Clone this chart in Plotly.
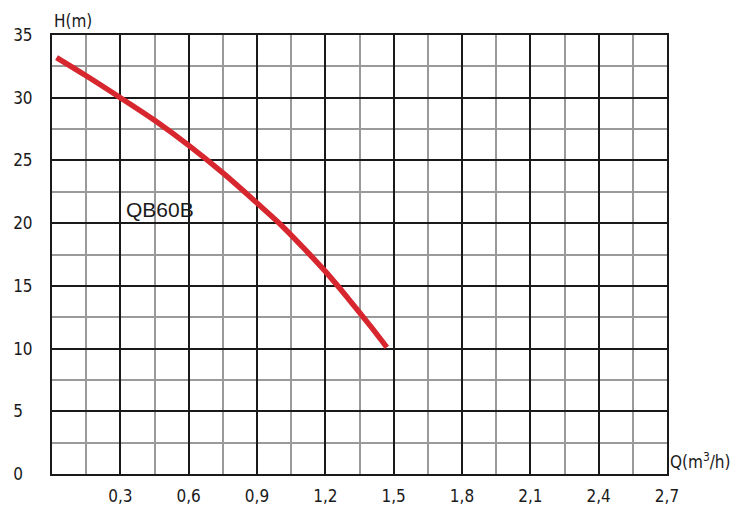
import numpy as np
import plotly.graph_objects as go

# Data
flow_q = [0.02, 0.15, 0.3, 0.45, 0.6, 0.75, 0.9, 1.0, 1.1, 1.2, 1.3, 1.4, 1.47]
head_h = [33.2, 31.75, 30.0, 28.2, 26.2, 24.0, 21.6, 19.95, 18.1, 16.15, 14.0, 11.75, 10.1]
series_name = "QB60B"

x_tickvals = [0.3, 0.6, 0.9, 1.2, 1.5, 1.8, 2.1, 2.4, 2.7]
x_ticktext = ["0,3", "0,6", "0,9", "1,2", "1,5", "1,8", "2,1", "2,4", "2,7"]
y_tickvals = [0, 5, 10, 15, 20, 25, 30, 35]
y_ticktext = ["0\u2007", "5\u2007", "10", "15", "20", "25", "30", "35"]

x_minor = list(np.arange(0.15, 2.7, 0.3))
y_minor = list(np.arange(2.5, 35, 5))

tick_font = dict(family="DejaVu Sans Condensed, Liberation Sans Narrow, sans-serif",
                 size=17, color="#1a1a1a")

fig = go.Figure()
fig.add_trace(go.Scatter(
    x=flow_q, y=head_h, mode="lines", name=series_name,
    line=dict(color="#d7262e", width=5.5, shape="spline", smoothing=1.0),
    showlegend=False, hoverinfo="x+y",
))

fig.add_annotation(x=0.476, y=21.1, xref="x", yref="y", text=series_name,
                   showarrow=False, font=dict(family="Liberation Sans, Arial, sans-serif",
                                              size=21, color="#1a1a1a"))
fig.add_annotation(x=0, y=1, xref="x domain", yref="y domain", text="H(m)",
                   showarrow=False, xanchor="left", yanchor="bottom", yshift=2,
                   font=tick_font)
fig.add_annotation(x=1, y=0, xref="x domain", yref="y domain", text="Q(m<sup>3</sup>/h)",
                   showarrow=False, xanchor="left", yanchor="bottom", xshift=1, yshift=0,
                   font=tick_font)

fig.update_xaxes(
    range=[0, 2.7], tickmode="array", tickvals=x_tickvals, ticktext=x_ticktext,
    showgrid=True, gridcolor="#1a1a1a", gridwidth=2,
    showline=True, linecolor="#1a1a1a", linewidth=2, mirror=True,
    zeroline=False, ticks="", ticklabelstandoff=6, tickfont=tick_font,
    automargin=False,
    minor=dict(tickmode="array", tickvals=x_minor, showgrid=True,
               gridcolor="#9a9a9a", gridwidth=1.5, ticks=""),
    fixedrange=True,
)
fig.update_yaxes(
    range=[0, 35], tickmode="array", tickvals=y_tickvals, ticktext=y_ticktext,
    showgrid=True, gridcolor="#1a1a1a", gridwidth=2,
    showline=True, linecolor="#1a1a1a", linewidth=2, mirror=True,
    zeroline=False, ticks="", ticklabelstandoff=14, tickfont=tick_font,
    automargin=False,
    minor=dict(tickmode="array", tickvals=y_minor, showgrid=True,
               gridcolor="#9a9a9a", gridwidth=1.5, ticks=""),
    fixedrange=True,
)

fig.update_layout(
    width=738, height=511,
    margin=dict(l=52, r=71, t=35, b=37, pad=0, autoexpand=False),
    plot_bgcolor="white", paper_bgcolor="white",
    showlegend=False,
)

fig.write_html(
    "out.html",
    config={"displayModeBar": False},
    post_script="document.body.style.margin='0';document.body.style.padding='0';"
                "document.body.style.overflow='hidden';",
)
